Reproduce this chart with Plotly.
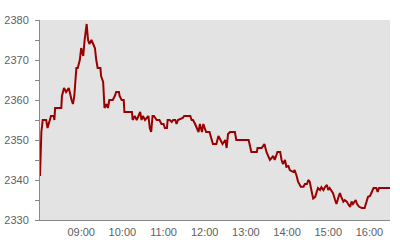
import plotly.graph_objects as go

times = ["08:00", "08:02", "08:04", "08:09", "08:11", "08:14", "08:16", "08:20", "08:21", "08:22",
         "08:31", "08:32", "08:35", "08:38", "08:42", "08:46", "08:48", "08:50", "08:53", "08:55",
         "08:58", "09:00", "09:03", "09:05", "09:08", "09:10", "09:12", "09:15", "09:17", "09:20",
         "09:22", "09:24", "09:28", "09:29", "09:32", "09:34", "09:37", "09:39", "09:41", "09:46",
         "09:49", "09:51", "09:55", "09:56", "09:59", "10:02", "10:03", "10:14", "10:15", "10:18",
         "10:21", "10:23", "10:26", "10:28", "10:30", "10:33", "10:38", "10:40", "10:42", "10:44",
         "10:46", "10:50", "10:54", "10:57", "11:00", "11:02", "11:05", "11:06", "11:09", "11:12",
         "11:14", "11:17", "11:19", "11:21", "11:28", "11:30", "11:39", "11:41", "11:43", "11:46",
         "11:48", "11:51", "11:53", "11:56", "11:58", "12:00", "12:02", "12:07", "12:10", "12:12",
         "12:17", "12:20", "12:23", "12:26", "12:30", "12:32", "12:34", "12:37", "12:44", "12:46",
         "13:04", "13:06", "13:08", "13:16", "13:17", "13:23", "13:27", "13:30", "13:33", "13:35",
         "13:40", "13:42", "13:46", "13:50", "13:52", "13:54", "13:57", "13:59", "14:02", "14:04",
         "14:09", "14:11", "14:14", "14:16", "14:20", "14:24", "14:26", "14:29", "14:31", "14:33",
         "14:36", "14:38", "14:41", "14:43", "14:45", "14:48", "14:50", "14:53", "14:55", "14:58",
         "15:00", "15:02", "15:05", "15:07", "15:10", "15:12", "15:15", "15:17", "15:19", "15:22",
         "15:24", "15:27", "15:29", "15:32", "15:34", "15:36", "15:40", "15:42", "15:45", "15:49",
         "15:53", "15:56", "15:58", "16:01", "16:03", "16:06", "16:10", "16:12", "16:14", "16:30"]

prices = [2341, 2352, 2355, 2355, 2353, 2355, 2356, 2356, 2355, 2358,
          2358, 2361, 2363, 2362, 2363, 2360, 2359, 2361, 2368, 2368,
          2370, 2373, 2371, 2375, 2379, 2375, 2374, 2375, 2374, 2373,
          2370, 2368, 2368, 2366, 2364.5, 2358, 2359, 2358, 2360, 2360,
          2361, 2362, 2362, 2361, 2360, 2360, 2357, 2357, 2355, 2356,
          2355, 2356, 2357, 2355, 2356, 2355, 2356, 2353, 2352, 2356,
          2356, 2355, 2355, 2354, 2354, 2353, 2353, 2355, 2355, 2354.5,
          2355, 2355, 2354, 2355, 2355.5, 2356, 2356, 2355, 2355, 2354,
          2353, 2352, 2354, 2352, 2354, 2353, 2352, 2352, 2350, 2349,
          2349, 2351, 2350, 2349, 2350, 2348, 2351.5, 2352, 2352, 2350,
          2350, 2348, 2347, 2347, 2348, 2348, 2349, 2347, 2346, 2345,
          2346, 2345, 2347, 2347, 2345, 2344, 2345, 2343.3, 2343.5, 2342.5,
          2342, 2342.5, 2341, 2339.6, 2338.3, 2338.3, 2339, 2339, 2340, 2339.6,
          2337, 2335.4, 2335.8, 2337, 2338, 2337.5, 2338.2, 2337.5, 2338.2, 2338.75,
          2337.5, 2338, 2337, 2336.7, 2335, 2334, 2335.8, 2336.7, 2335.8, 2334.6,
          2335, 2334.6, 2334, 2333.3, 2334.6, 2334, 2335, 2334, 2333.3, 2333,
          2333, 2335, 2335.8, 2336, 2337, 2338, 2338, 2337, 2338, 2338]

x_ticks = ["09:00", "10:00", "11:00", "12:00", "13:00", "14:00", "15:00", "16:00"]

day = "2024-01-02 "
xs = [day + t for t in times]

fig = go.Figure()
fig.add_trace(go.Scatter(x=xs, y=prices, mode="lines",
                         line=dict(color="#9b0000", width=2), hoverinfo="skip"))

fig.update_layout(
    width=400, height=240,
    margin=dict(l=40, r=10, t=20, b=20),
    paper_bgcolor="white", plot_bgcolor="#e3e3e3",
    showlegend=False,
    font=dict(family="Liberation Sans, Arial, sans-serif", size=11, color="#606060"),
)
fig.update_xaxes(
    range=[day + "08:00", day + "16:30"],
    tickvals=[day + t for t in x_ticks], ticktext=x_ticks,
    showgrid=False, zeroline=False,
    showline=True, linecolor="#888888", linewidth=1,
    ticks="", ticklabelstandoff=2, automargin=False, fixedrange=True,
)
fig.update_yaxes(
    range=[2330, 2380], dtick=10, tick0=2330,
    showgrid=False, zeroline=False,
    showline=True, linecolor="#888888", linewidth=1,
    ticks="outside", ticklen=4, tickcolor="#888888",
    ticklabelstandoff=4,
    minor=dict(dtick=5, ticks="outside", ticklen=4, tickcolor="#888888", showgrid=False),
    automargin=False, fixedrange=True,
)

fig.write_html("out.html", config={"displayModeBar": False})
